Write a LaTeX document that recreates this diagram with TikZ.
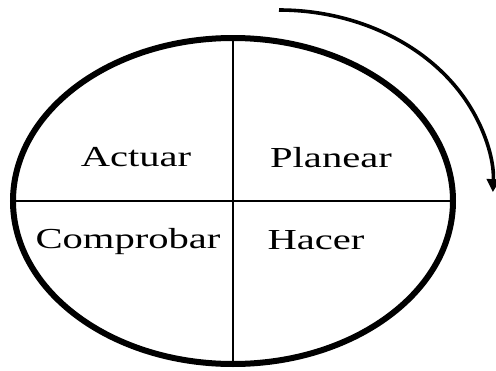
\documentclass[tikz,border=0pt]{standalone}
\usepackage{fontspec}
\setmainfont{Liberation Serif}[FakeStretch=1.4]
\usetikzlibrary{shapes.geometric,arrows.meta}
\begin{document}
\begin{tikzpicture}[x=1pt,y=-1pt,
  lbl/.style={anchor=base,inner sep=0pt,font=\fontsize{29}{30}\selectfont},
  thin line/.style={line width=1.4pt},
  cycle/.style={draw,ellipse,line width=6pt,minimum width=440pt,minimum height=326pt,inner sep=0pt,outer sep=0pt}]
\useasboundingbox (0,0) rectangle (496,370);
\node[cycle] (e) at (233,201) {};
\draw[thin line] (e.north) -- (e.south);
\draw[thin line] (e.west) -- (e.east);
\node[lbl] (act) at (136,166) {Actuar};
\node[lbl] (pla) at (331,167) {Planear};
\node[lbl] (com) at (128,248) {Comprobar};
\node[lbl] (hac) at (316,249) {Hacer};
\coordinate (s) at (279,10);
\draw[line width=3.6pt,-{Triangle[length=13pt,width=13pt]}] (s) arc[start angle=-90,end angle=2,x radius=214,y radius=176];
\end{tikzpicture}
\end{document}
